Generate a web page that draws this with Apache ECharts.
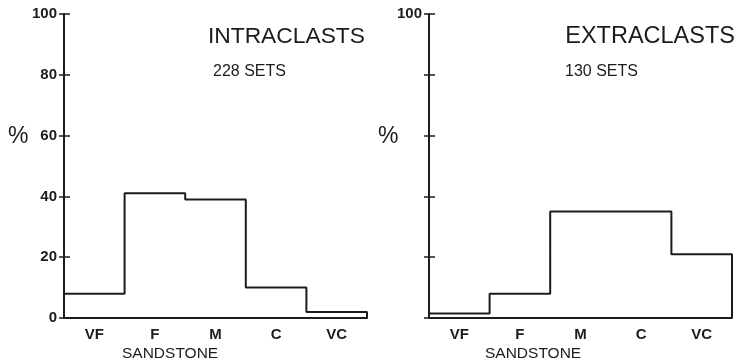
<!DOCTYPE html>
<html>
<head>
<meta charset="utf-8">
<script src="https://cdn.jsdelivr.net/npm/echarts@6/dist/echarts.min.js"></script>
<style>
  html, body { margin: 0; padding: 0; background: #fff; }
  #chart { width: 738px; height: 362px; }
</style>
</head>
<body>
<div id="chart"></div>
<script>
// grain size classes
const sizeClasses = ['VF', 'F', 'M', 'C', 'VC']
// percent of sets per class
const intraPct = [8, 41, 39, 10, 2]
const extraPct = [1.5, 8, 35, 35, 21]
const yTicks = [0, 20, 40, 60, 80, 100]
const intraTickLabels = ['0', '20', '40', '60', '80', '100']
const extraTickLabels = ['', '', '', '', '', '100']

const ink = '#1c1c1c'
const font = 'Liberation Sans'

// outline of a histogram: bin edges 0..n, step at each edge
function stepPoints(values) {
  const pts = [[0, 0]]
  values.forEach((v, i) => pts.push([i, v]))
  pts.push([values.length, values[values.length - 1]])
  pts.push([values.length, 0])
  return pts
}

function tickLabel(labels) {
  return (v) => {
    const i = yTicks.indexOf(v)
    return i < 0 ? '' : labels[i]
  }
}

function panelAxes(gridIndex, labels) {
  const x = [
    {
      type: 'category',
      gridIndex,
      data: sizeClasses,
      boundaryGap: true,
      axisLine: { lineStyle: { color: ink, width: 2 } },
      axisTick: { show: false },
      axisLabel: { color: ink, fontFamily: font, fontSize: 15, fontWeight: 'bold', margin: 9 }
    },
    {
      type: 'value',
      gridIndex,
      min: 0,
      max: sizeClasses.length,
      show: false
    }
  ]
  const y = [
    {
      type: 'value',
      gridIndex,
      position: 'left',
      min: 0,
      max: 100,
      interval: 20,
      splitLine: { show: false },
      axisLine: { show: true, lineStyle: { color: ink, width: 2 } },
      axisTick: { show: true, length: 5, lineStyle: { color: ink, width: 1.5 } },
      axisLabel: { color: ink, fontFamily: font, fontSize: 15, fontWeight: 'bold', margin: 7, formatter: tickLabel(labels) }
    },
    {
      type: 'value',
      gridIndex,
      position: 'left',
      offset: 0,
      min: 0,
      max: 100,
      interval: 20,
      splitLine: { show: false },
      axisLine: { show: false },
      axisTick: { show: true, inside: true, length: 6, lineStyle: { color: ink, width: 1.5 } },
      axisLabel: { show: false }
    }
  ]
  return { x, y }
}

const left = panelAxes(0, intraTickLabels)
const right = panelAxes(1, extraTickLabels)

function text(t, pos, size) {
  return Object.assign({
    text: t,
    padding: 0,
    textStyle: { color: ink, fontFamily: font, fontSize: size, fontWeight: 'normal' }
  }, pos)
}

const chart = echarts.init(document.getElementById('chart'))
chart.setOption({
  animation: false,
  backgroundColor: '#fff',
  title: [
    text('INTRACLASTS', { right: 373, top: 25 }, 22.8),
    text('228 SETS', { left: 213, top: 64 }, 16),
    text('EXTRACLASTS', { right: 3, top: 25 }, 23.5),
    text('130 SETS', { left: 565, top: 64 }, 16),
    text('%', { left: 8, top: 125 }, 23),
    text('%', { left: 378, top: 125 }, 23),
    text('SANDSTONE', { left: 122, top: 346 }, 15.5),
    text('SANDSTONE', { left: 485, top: 346 }, 15.5)
  ],
  grid: [
    { left: 64, right: 371, top: 14, bottom: 44 },
    { left: 429, right: 6, top: 14, bottom: 44 }
  ],
  xAxis: left.x.concat(right.x),
  yAxis: left.y.concat(right.y),
  series: [
    {
      type: 'line',
      xAxisIndex: 1,
      yAxisIndex: 0,
      step: 'end',
      symbol: 'none',
      data: stepPoints(intraPct),
      lineStyle: { color: ink, width: 2 }
    },
    {
      type: 'line',
      xAxisIndex: 3,
      yAxisIndex: 2,
      step: 'end',
      symbol: 'none',
      data: stepPoints(extraPct),
      lineStyle: { color: ink, width: 2 }
    }
  ]
})
</script>
</body>
</html>
